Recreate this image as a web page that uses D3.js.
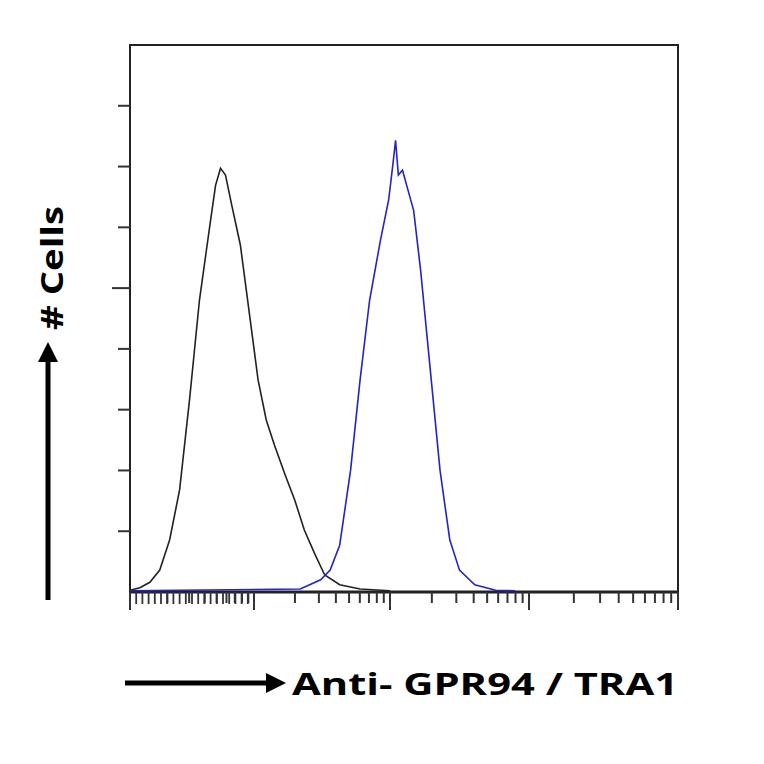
<!DOCTYPE html>
<html><head><meta charset="utf-8">
<script src="https://cdn.jsdelivr.net/npm/d3@7"></script>
<style>body{margin:0;background:#fff}</style>
</head><body><svg id="chart" width="764" height="764"></svg>
<script>
// log10 intensity and cell counts
const ctrlX = [0,0.08,0.16,0.24,0.32,0.40,0.48,0.56,0.65,0.69,0.73,0.77,0.82,0.89,0.97,1.03,1.09,1.15,1.23,1.30,1.37,1.45,1.52,1.63,1.78,2.0];
const ctrlY = [0.03,0.07,0.16,0.36,0.86,1.68,3.16,4.80,6.12,6.69,6.97,6.86,6.37,5.71,4.47,3.49,2.83,2.42,1.92,1.51,1.02,0.61,0.28,0.12,0.05,0.02];
const abX = [0,1.34,1.49,1.56,1.63,1.71,1.78,1.85,1.93,1.99,2.02,2.04,2.06,2.09,2.12,2.17,2.22,2.29,2.36,2.43,2.50,2.61,2.76,2.90];
const abY = [0.02,0.05,0.2,0.36,0.77,2.0,3.49,4.80,5.79,6.45,7.02,7.43,6.86,6.94,6.69,6.28,5.30,3.65,2.0,0.86,0.36,0.12,0.03,0.02];
const decades = [0,1,2,3,4];
const yTicks = [1,2,3,4,5,6,7,8];

const svg = d3.select("#chart");
const x = d3.scaleLinear().domain(decades).range([130,254,390,529,678]);
const y = d3.scaleLinear().domain([0,9]).range([592,45]);

svg.append("rect").attr("x",130).attr("y",45).attr("width",548).attr("height",547)
  .attr("fill","none").attr("stroke","#222").attr("stroke-width",2);
svg.append("line").attr("x1",130).attr("x2",678).attr("y1",592).attr("y2",592)
  .attr("stroke","#222").attr("stroke-width",3);

// y ticks
svg.selectAll(".yt").data(yTicks).join("line")
  .attr("x1",d=>d===5?112:118).attr("x2",130)
  .attr("y1",d=>y(d)).attr("y2",d=>y(d)).attr("stroke","#333").attr("stroke-width",2);

// x log ticks
const xt = [];
decades.slice(0,4).forEach(dd=>{ for(let k=1;k<10;k++) xt.push({v:dd+Math.log10(k),major:k===1}); });
xt.push({v:4,major:true});
svg.selectAll(".xt").data(xt).join("line")
  .attr("x1",d=>x(d.v)).attr("x2",d=>x(d.v))
  .attr("y1",592).attr("y2",d=>d.major?610:603).attr("stroke","#333").attr("stroke-width",2);
// dense minor ticks in first decade
const dense = d3.range(0.05,1,0.05);
svg.selectAll(".dt").data(dense).join("line")
  .attr("x1",d=>x(d)).attr("x2",d=>x(d)).attr("y1",592).attr("y2",604)
  .attr("stroke","#333").attr("stroke-width",1.8);

const line = d3.line().x(d=>x(d[0])).y(d=>y(d[1]));
svg.append("path").datum(d3.zip(ctrlX,ctrlY)).attr("d",line)
  .attr("fill","none").attr("stroke","#222").attr("stroke-width",1.6);
svg.append("path").datum(d3.zip(abX,abY)).attr("d",line)
  .attr("fill","none").attr("stroke","#2323c8").attr("stroke-width",1.6);

// arrows
svg.append("defs").append("marker").attr("id","ah").attr("viewBox","0 0 10 10")
  .attr("refX",5).attr("refY",5).attr("markerWidth",4).attr("markerHeight",4).attr("orient","auto")
  .append("path").attr("d","M0,0L10,5L0,10z").attr("fill","#000");
svg.append("line").attr("x1",48).attr("y1",600).attr("x2",48).attr("y2",352)
  .attr("stroke","#000").attr("stroke-width",5).attr("marker-end","url(#ah)");
svg.append("line").attr("x1",125).attr("y1",683).attr("x2",276).attr("y2",683)
  .attr("stroke","#000").attr("stroke-width",5).attr("marker-end","url(#ah)");

svg.append("text").attr("transform","translate(63,268) rotate(-90)").attr("text-anchor","middle")
  .attr("font-family","Open Sans, sans-serif").attr("font-weight","bold").attr("font-size",31)
  .attr("textLength",124).attr("lengthAdjust","spacingAndGlyphs").text("# Cells");
svg.append("text").attr("x",292).attr("y",695)
  .attr("font-family","Open Sans, sans-serif").attr("font-weight","bold").attr("font-size",31)
  .attr("textLength",386).attr("lengthAdjust","spacingAndGlyphs").text("Anti- GPR94 / TRA1");
</script></body></html>
